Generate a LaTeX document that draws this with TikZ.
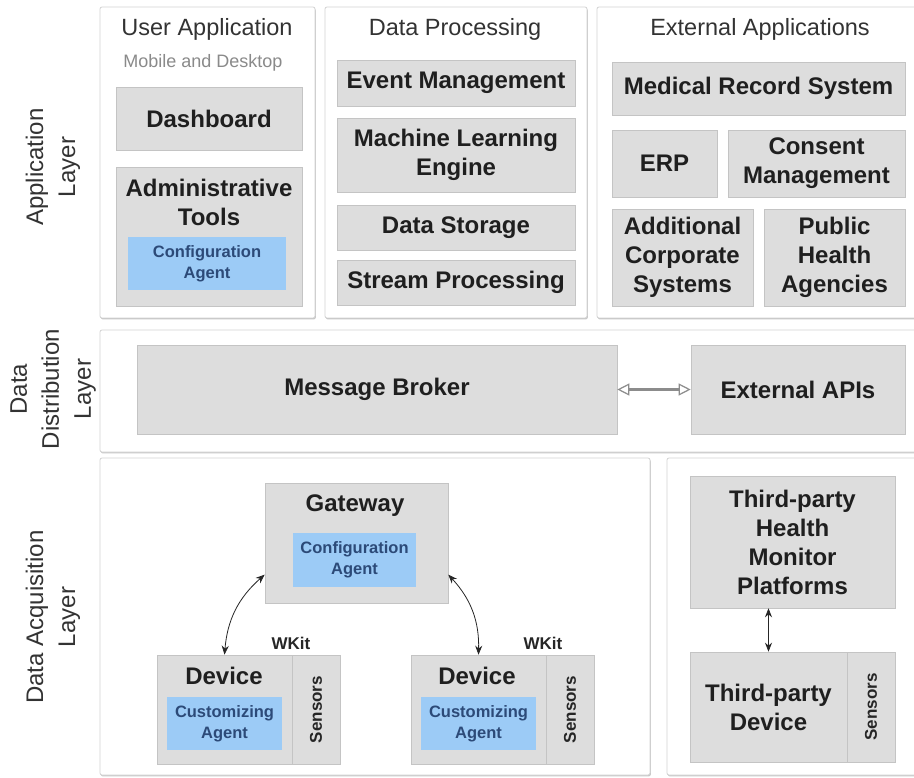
\documentclass[tikz,border=0pt]{standalone}
\usepackage{fontspec}
\setmainfont{Liberation Sans}
\usetikzlibrary{shadows,arrows.meta,calc}
\definecolor{boxfill}{HTML}{DDDDDD}
\definecolor{boxline}{HTML}{C4C4C4}
\definecolor{bluefill}{HTML}{9CCBF6}
\definecolor{bluetext}{HTML}{2C4A78}
\definecolor{paneline}{HTML}{D2D2D2}
\definecolor{titletext}{HTML}{333333}
\definecolor{subtext}{HTML}{8A8A8A}
\begin{document}
\begin{tikzpicture}[x=1pt,y=-1pt,
  panel/.style={draw=paneline, fill=white, rounded corners=2pt, line width=0.8pt, inner sep=0pt,
    drop shadow={shadow xshift=0.8pt,shadow yshift=-1.4pt,fill=black!22,opacity=1}},
  gbox/.style={draw=boxline, fill=boxfill, line width=0.6pt, inner sep=0pt, align=center,
    font=\bfseries\fontsize{24}{29}\selectfont, text=black!88,
    drop shadow={shadow xshift=1.2pt,shadow yshift=-1.4pt,fill=black!28,opacity=1}},
  bbox/.style={fill=bluefill, draw=none, inner sep=0pt, align=center,
    font=\bfseries\fontsize{16.5}{21}\selectfont, text=bluetext},
  lbl/.style={inner sep=0pt, align=center, font=\bfseries\fontsize{24}{29}\selectfont, text=black!88},
  title/.style={inner sep=0pt, font=\fontsize{23.5}{28}\selectfont, text=titletext},
  layer/.style={inner sep=0pt, align=center, rotate=90, font=\fontsize{24}{32}\selectfont, text=titletext},
  sens/.style={inner sep=0pt, rotate=90, font=\bfseries\fontsize{17}{20}\selectfont, text=black!85},
  wkit/.style={inner sep=0pt, font=\bfseries\fontsize{17}{20}\selectfont, text=black!85},
  biarrow/.style={{Stealth[length=9pt,width=7pt]}-{Stealth[length=9pt,width=7pt]}, line width=0.8pt, draw=black!85},
  openarrow/.style={{Triangle[open,length=12pt,width=12pt,fill=white,line width=1.2pt]}-{Triangle[open,length=12pt,width=12pt,fill=white,line width=1.2pt]}, draw=black!45, line width=2.4pt}
]
\useasboundingbox (0,0) rectangle (914,778);
\fill[white] (0,0) rectangle (914,778);

% layer labels
\node[layer] (lApp) at (53,167) {Application\\Layer};
\node[layer] (lDD) at (53,389) {Data\\Distribution\\Layer};
\node[layer] (lDA) at (53,617) {Data Acquisition\\Layer};

% panels
\node[panel, minimum width=215, minimum height=311] (pUA) at (207.5,162.5) {};
\node[panel, minimum width=262, minimum height=311] (pDP) at (456,162.5) {};
\node[panel, minimum width=319, minimum height=311] (pEA) at (756.5,162.5) {};
\node[panel, minimum width=816, minimum height=122] (pDD) at (508,391) {};
\node[panel, minimum width=550, minimum height=317] (pDA) at (375,616.5) {};
\node[panel, minimum width=249, minimum height=317] (pTP) at (791.5,616.5) {};

% User application
\node[title] (tUA) at (207,29) {User Application};
\node[inner sep=0pt, font=\fontsize{18}{22}\selectfont, text=subtext] (tMD) at (203,63) {Mobile and Desktop};
\node[gbox, minimum width=186, minimum height=63] (dash) at (209,118.5) {Dashboard};
\node[gbox, minimum width=186, minimum height=139] (admin) at (209,236.5) {};
\node[lbl] (adminT) at (209,202) {Administrative\\Tools};
\node[bbox, minimum width=158, minimum height=53] (cfgA) at (207,263.5) {Configuration\\Agent};

% Data processing
\node[title] (tDP) at (455,29) {Data Processing};
\node[gbox, minimum width=238, minimum height=46] (ev) at (456,83) {Event Management};
\node[gbox, minimum width=238, minimum height=74] (ml) at (456,155) {Machine Learning\\Engine};
\node[gbox, minimum width=238, minimum height=45] (ds) at (456,227.5) {Data Storage};
\node[gbox, minimum width=238, minimum height=45] (sp) at (456,282.5) {Stream Processing};

% External applications
\node[title] (tEA) at (760,29) {External Applications};
\node[gbox, minimum width=293, minimum height=53] (mrs) at (758.5,88.5) {Medical Record System};
\node[gbox, minimum width=105, minimum height=67] (erp) at (664.5,163.5) {ERP};
\node[gbox, minimum width=177, minimum height=67] (cm) at (816.5,163.5) {Consent\\Management};
\node[gbox, minimum width=141, minimum height=97] (acs) at (682.5,257.5) {Additional\\Corporate\\Systems};
\node[gbox, minimum width=141, minimum height=97] (pha) at (834.5,257.5) {Public\\Health\\Agencies};

% Data distribution
\node[gbox, minimum width=480, minimum height=89] (mb) at (377,389.5) {Message Broker};
\node[gbox, minimum width=214, minimum height=89] (api) at (798,389.5) {External APIs};
\draw[openarrow] (mb.east) -- (api.west);

% Data acquisition
\node[gbox, minimum width=183, minimum height=120] (gw) at (356.5,543) {};
\node[lbl] (gwT) at (355,506) {Gateway};
\node[bbox, minimum width=123, minimum height=54] (cfgG) at (354.5,560) {Configuration\\Agent};

\node[gbox, minimum width=135, minimum height=109] (dev1) at (224.5,709.5) {};
\node[gbox, minimum width=48, minimum height=109] (sen1) at (316,709.5) {};
\node[sens] (sen1T) at (316,709.5) {Sensors};
\node[lbl] (dev1T) at (224,676) {Device};
\node[bbox, minimum width=115, minimum height=53] (cust1) at (224.5,723.5) {Customizing\\Agent};
\node[wkit] (wk1) at (291,643) {WKit};

\node[gbox, minimum width=135, minimum height=109] (dev2) at (478.5,709.5) {};
\node[gbox, minimum width=48, minimum height=109] (sen2) at (570,709.5) {};
\node[sens] (sen2T) at (570,709.5) {Sensors};
\node[lbl] (dev2T) at (477,676) {Device};
\node[bbox, minimum width=115, minimum height=53] (cust2) at (478.5,723.5) {Customizing\\Agent};
\node[wkit] (wk2) at (543,643) {WKit};

\draw[biarrow] (gw.199) to[bend right=22] (dev1.north);
\draw[biarrow] (gw.-19) to[bend left=22] (dev2.north);

% Third party
\node[gbox, minimum width=205, minimum height=132] (tphm) at (792.5,542) {Third-party\\Health\\Monitor\\Platforms};
\node[gbox, minimum width=157, minimum height=110] (tpd) at (768.5,707) {Third-party\\Device};
\node[gbox, minimum width=48, minimum height=110] (sen3) at (871,707) {};
\node[sens] (sen3T) at (871,707) {Sensors};
\draw[biarrow] (tpd.north |- tphm.south) -- (tpd.north);
\end{tikzpicture}
\end{document}
